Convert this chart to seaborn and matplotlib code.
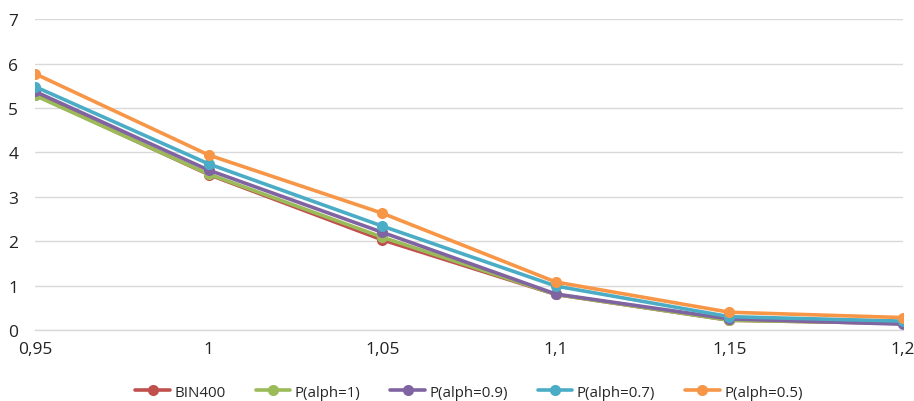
import matplotlib
matplotlib.use("Agg")
import matplotlib.pyplot as plt
import seaborn as sns
import pandas as pd

x_vals = [0.95, 1.0, 1.05, 1.1, 1.15, 1.2]
x_labels = ["0,95", "1", "1,05", "1,1", "1,15", "1,2"]
bin400 = [5.30, 3.50, 2.03, 0.80, 0.22, 0.15]
p_a1 = [5.28, 3.51, 2.09, 0.80, 0.22, 0.15]
p_a09 = [5.37, 3.60, 2.20, 0.81, 0.25, 0.13]
p_a07 = [5.48, 3.74, 2.34, 0.99, 0.30, 0.20]
p_a05 = [5.77, 3.94, 2.63, 1.08, 0.40, 0.28]
series_names = ["BIN400", "P(alph=1)", "P(alph=0.9)", "P(alph=0.7)", "P(alph=0.5)"]
colors = ["#C0504D", "#9BBB59", "#8064A2", "#4BACC6", "#F79646"]

sns.set_style("white")
plt.rcParams['font.family'] = ['Open Sans', 'DejaVu Sans']

rows = []
for name, vals in zip(series_names, [bin400, p_a1, p_a09, p_a07, p_a05]):
    for xv, v in zip(x_vals, vals):
        rows.append({"x": xv, "y": v, "series": name})
df = pd.DataFrame(rows)

fig = plt.figure(figsize=(9.14, 4.02), dpi=100)
ax = fig.add_axes([0.0383, 0.1766, 0.9497, 0.7734])
sns.lineplot(data=df, x="x", y="y", hue="series", hue_order=series_names,
             palette=colors, marker="o", markersize=8, markeredgewidth=0,
             linewidth=2.6, ax=ax, legend=True)

ax.set_xlim(0.95, 1.2)
ax.set_ylim(0, 7)
ax.set_xticks(x_vals)
ax.set_xticklabels(x_labels)
ax.set_yticks(range(0, 8))
ax.set_xlabel("")
ax.set_ylabel("")
ax.yaxis.grid(True, color="#D9D9D9", linewidth=1)
ax.set_axisbelow(True)
for s in ["top", "right", "left"]:
    ax.spines[s].set_visible(False)
ax.spines["bottom"].set_color("#D9D9D9")
ax.spines["bottom"].set_linewidth(1)
ax.tick_params(axis="both", length=0, labelsize=12.5, colors="#222222")
ax.tick_params(axis="x", pad=8)
ax.tick_params(axis="y", pad=12)

handles, labels = ax.get_legend_handles_labels()
ax.legend(handles, labels, loc="center", bbox_to_anchor=(0.5, -0.2),
          bbox_transform=ax.transAxes, ncol=5, frameon=False, fontsize=10.8,
          handlelength=2.3, columnspacing=2.0, handletextpad=0.3)

fig.savefig("out.png", dpi=100)
